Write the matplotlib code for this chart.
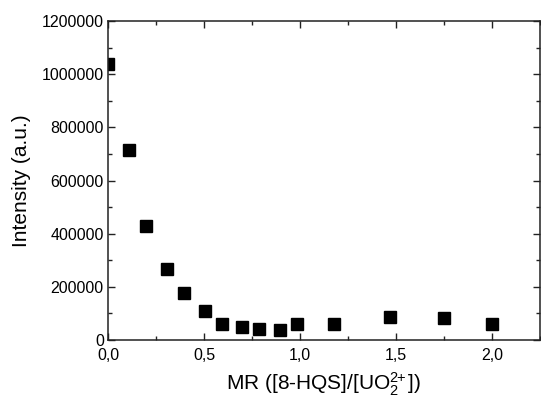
import numpy as np
import matplotlib
matplotlib.use("Agg")
import matplotlib.pyplot as plt
from matplotlib.ticker import MultipleLocator, FuncFormatter

# molar ratio [8-HQS]/[UO2 2+] and emission intensity
mr = [0.0, 0.11, 0.197, 0.305, 0.395, 0.507, 0.594, 0.699, 0.788, 0.894,
      0.982, 1.179, 1.470, 1.749, 2.002]
intensity = [1038000, 714000, 429000, 266000, 178000, 108000, 61000, 49000,
             40000, 36000, 61000, 61000, 88000, 82000, 61000]

plt.rcParams["font.family"] = ["Liberation Sans", "DejaVu Sans"]
plt.rcParams["mathtext.fontset"] = "custom"
plt.rcParams["mathtext.rm"] = "Liberation Sans"
plt.rcParams["mathtext.it"] = "Liberation Sans:italic"

fig = plt.figure(figsize=(5.41, 4.01), dpi=100)
ax = fig.add_axes([108 / 541, 61 / 401, 432 / 541, 319 / 401])

ax.plot(mr, intensity, "s", color="black", ms=8)

ax.set_xlim(0, 2.25)
ax.set_ylim(0, 1200000)
ax.xaxis.set_major_locator(MultipleLocator(0.5))
ax.xaxis.set_minor_locator(MultipleLocator(0.25))
ax.yaxis.set_major_locator(MultipleLocator(200000))
ax.yaxis.set_minor_locator(MultipleLocator(100000))
ax.xaxis.set_major_formatter(FuncFormatter(lambda v, _: f"{v:.1f}".replace(".", ",")))
ax.yaxis.set_major_formatter(FuncFormatter(lambda v, _: f"{int(round(v))}"))

ax.tick_params(which="both", direction="in", top=True, right=True,
               labelsize=11.5, width=1, color="#222222")
ax.tick_params(which="major", length=5)
ax.tick_params(axis="x", which="major", pad=6)
ax.tick_params(axis="y", which="major", pad=3)
ax.tick_params(which="minor", length=3)
for s in ax.spines.values():
    s.set_linewidth(1.1)
    s.set_color("#222222")

ax.set_xlabel(r"MR ([8-HQS]/[UO$_2^{2\!\!+}$])", fontsize=15, labelpad=5)
ax.set_ylabel("Intensity (a.u.)", fontsize=15, labelpad=8)

fig.savefig("out.png", dpi=100)
